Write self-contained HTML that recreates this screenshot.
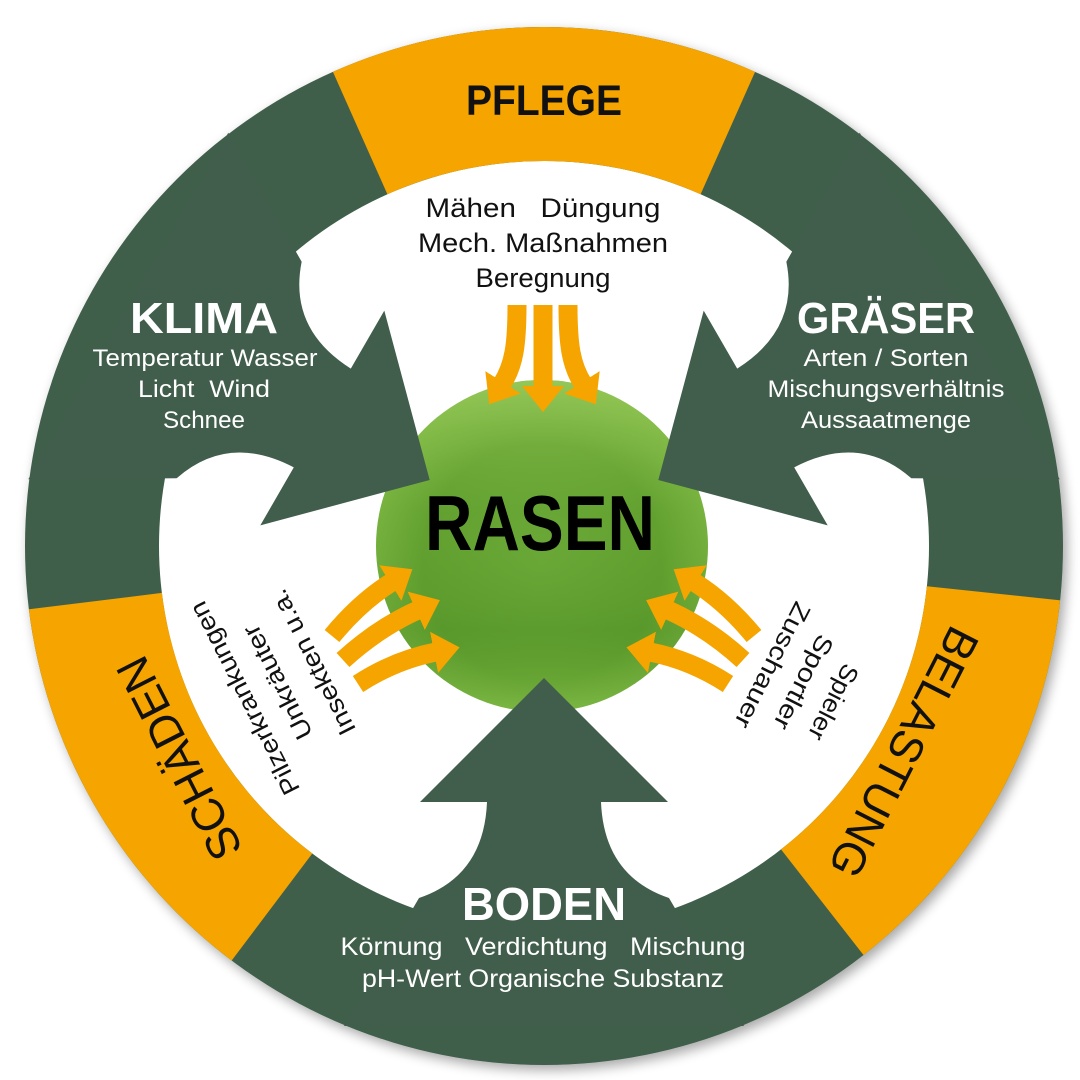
<!DOCTYPE html>
<html><head><meta charset="utf-8"><style>
html,body{margin:0;padding:0;background:#fff;}
svg{display:block;}
text{font-family:"Liberation Sans",sans-serif;}
</style></head><body>
<svg width="1080" height="1080" viewBox="0 0 1080 1080" xmlns="http://www.w3.org/2000/svg">
<defs>
<filter id="sh" x="-10%" y="-10%" width="120%" height="120%"><feGaussianBlur in="SourceAlpha" stdDeviation="6"/><feOffset dx="4" dy="5"/><feComponentTransfer><feFuncA type="linear" slope="0.35"/></feComponentTransfer><feMerge><feMergeNode/><feMergeNode in="SourceGraphic"/></feMerge></filter>
<clipPath id="cc"><circle cx="544" cy="546" r="519"/></clipPath>
<radialGradient id="gr" cx="50%" cy="55%" r="60%">
<stop offset="0" stop-color="#6aa838"/><stop offset="0.6" stop-color="#5f9e2e"/><stop offset="1" stop-color="#84bd48"/></radialGradient>
<linearGradient id="gl" x1="0" y1="0" x2="0" y2="1">
<stop offset="0" stop-color="#9acb5c" stop-opacity="0.8"/><stop offset="0.4" stop-color="#7ab440" stop-opacity="0.1"/><stop offset="0.75" stop-color="#4a8a22" stop-opacity="0.3"/><stop offset="1" stop-color="#86c04a" stop-opacity="0.6"/></linearGradient>
<marker id="ah" markerUnits="userSpaceOnUse" markerWidth="50" markerHeight="50" refX="2" refY="21" orient="auto"><path d="M0,0 L26,21 L0,42 z" fill="#f5a400"/></marker>
</defs>
<circle cx="544" cy="546" r="519" fill="#405e4b" filter="url(#sh)"/>
<circle cx="544" cy="546" r="385" fill="#fff"/>
<circle cx="542" cy="546" r="166" fill="url(#gr)"/>
<circle cx="542" cy="546" r="166" fill="url(#gl)"/>
<g fill="#405e4b" transform="translate(544,546)">
<path d="M0,132 L124,256 L57,256 Q60,330 125,352 L200,480 L-200,480 L-125,352 Q-60,330 -57,256 L-124,256 Z"/>
<path d="M0,132 L124,256 L57,256 Q60,330 125,352 L200,480 L-200,480 L-125,352 Q-60,330 -57,256 L-124,256 Z" transform="rotate(120)"/>
<path d="M0,132 L124,256 L57,256 Q60,330 125,352 L200,480 L-200,480 L-125,352 Q-60,330 -57,256 L-124,256 Z" transform="rotate(-120)"/>
</g>
<g fill="#f5a400" clip-path="url(#cc)">
<path d="M330.5,66.4 A525,525 0 0 1 757.5,66.4 L700.6,194.3 A385,385 0 0 0 387.4,194.3 Z"/>
<path d="M1066.1,600.9 A525,525 0 0 1 867.2,959.7 L781,849.4 A385,385 0 0 0 926.9,586.2 Z"/>
<path d="M228.1,965.3 A525,525 0 0 1 22.9,610 L161.9,592.9 A385,385 0 0 0 312.3,853.5 Z"/>
</g>
<g fill="none" stroke="#f5a400" stroke-width="19" marker-end="url(#ah)">
<path d="M517,305 C517,345 514,365 502,384"/>
<path d="M543,305 L543,388"/>
<path d="M568,305 C568,345 571,365 583,384"/>
<path d="M332,636 Q360,602 392,582"/>
<path d="M343,660 Q378,628 418,610"/>
<path d="M358,684 Q395,660 436,652"/>
<path d="M754,636 Q726,602 694,582"/>
<path d="M743,660 Q708,628 668,610"/>
<path d="M728,684 Q691,660 650,652"/>
</g>
<g text-anchor="middle">
<text x="544" y="115" font-size="43" font-weight="bold" fill="#111" textLength="156" lengthAdjust="spacingAndGlyphs">PFLEGE</text>
<text x="543" y="217" font-size="27" fill="#111" textLength="235" lengthAdjust="spacingAndGlyphs" xml:space="preserve">Mähen   Düngung</text>
<text x="543" y="252" font-size="27" fill="#111" textLength="250" lengthAdjust="spacingAndGlyphs">Mech. Maßnahmen</text>
<text x="543" y="287" font-size="27" fill="#111" textLength="135" lengthAdjust="spacingAndGlyphs">Beregnung</text>
<text x="204" y="333" font-size="44" font-weight="bold" fill="#fff" textLength="148" lengthAdjust="spacingAndGlyphs">KLIMA</text>
<text x="205" y="366" font-size="24" fill="#fff" textLength="225" lengthAdjust="spacingAndGlyphs">Temperatur Wasser</text>
<text x="204" y="397" font-size="24" fill="#fff" textLength="132" lengthAdjust="spacingAndGlyphs" xml:space="preserve">Licht  Wind</text>
<text x="204" y="428" font-size="24" fill="#fff" textLength="82" lengthAdjust="spacingAndGlyphs">Schnee</text>
<text x="886" y="333" font-size="44" font-weight="bold" fill="#fff" textLength="178" lengthAdjust="spacingAndGlyphs">GRÄSER</text>
<text x="886" y="366" font-size="24" fill="#fff" textLength="165" lengthAdjust="spacingAndGlyphs">Arten / Sorten</text>
<text x="886" y="397" font-size="24" fill="#fff" textLength="237" lengthAdjust="spacingAndGlyphs">Mischungsverhältnis</text>
<text x="886" y="428" font-size="24" fill="#fff" textLength="170" lengthAdjust="spacingAndGlyphs">Aussaatmenge</text>
<text x="544" y="920" font-size="46" font-weight="bold" fill="#fff" textLength="164" lengthAdjust="spacingAndGlyphs">BODEN</text>
<text x="543" y="955" font-size="25" fill="#fff" textLength="405" lengthAdjust="spacingAndGlyphs" xml:space="preserve">Körnung   Verdichtung   Mischung</text>
<text x="543" y="987" font-size="25" fill="#fff" textLength="362" lengthAdjust="spacingAndGlyphs">pH-Wert  Organische Substanz</text>
<text x="540" y="550" font-size="78" font-weight="bold" fill="#000" textLength="230" lengthAdjust="spacingAndGlyphs">RASEN</text>
<text transform="translate(180,758) rotate(-117)" dy="15" font-size="46" fill="#111" textLength="221" lengthAdjust="spacingAndGlyphs">SCHÄDEN</text>
<text transform="translate(245,698) rotate(-117)" dy="8" font-size="25" fill="#111" textLength="213" lengthAdjust="spacingAndGlyphs">Pilzerkrankungen</text>
<text transform="translate(278,682) rotate(-117)" dy="8" font-size="25" fill="#111" textLength="125" lengthAdjust="spacingAndGlyphs">Unkräuter</text>
<text transform="translate(313,662) rotate(-117)" dy="8" font-size="25" fill="#111" textLength="160" lengthAdjust="spacingAndGlyphs">Insekten u.a.</text>
<text transform="translate(903,752) rotate(117)" dy="15" font-size="46" fill="#111" textLength="274" lengthAdjust="spacingAndGlyphs">BELASTUNG</text>
<text transform="translate(833,702) rotate(117)" dy="8" font-size="25" fill="#111" textLength="82" lengthAdjust="spacingAndGlyphs">Spieler</text>
<text transform="translate(803,682) rotate(117)" dy="8" font-size="25" fill="#111" textLength="103" lengthAdjust="spacingAndGlyphs">Sportler</text>
<text transform="translate(772,665) rotate(117)" dy="8" font-size="25" fill="#111" textLength="138" lengthAdjust="spacingAndGlyphs">Zuschauer</text>
</g>
</svg>
</body></html>
